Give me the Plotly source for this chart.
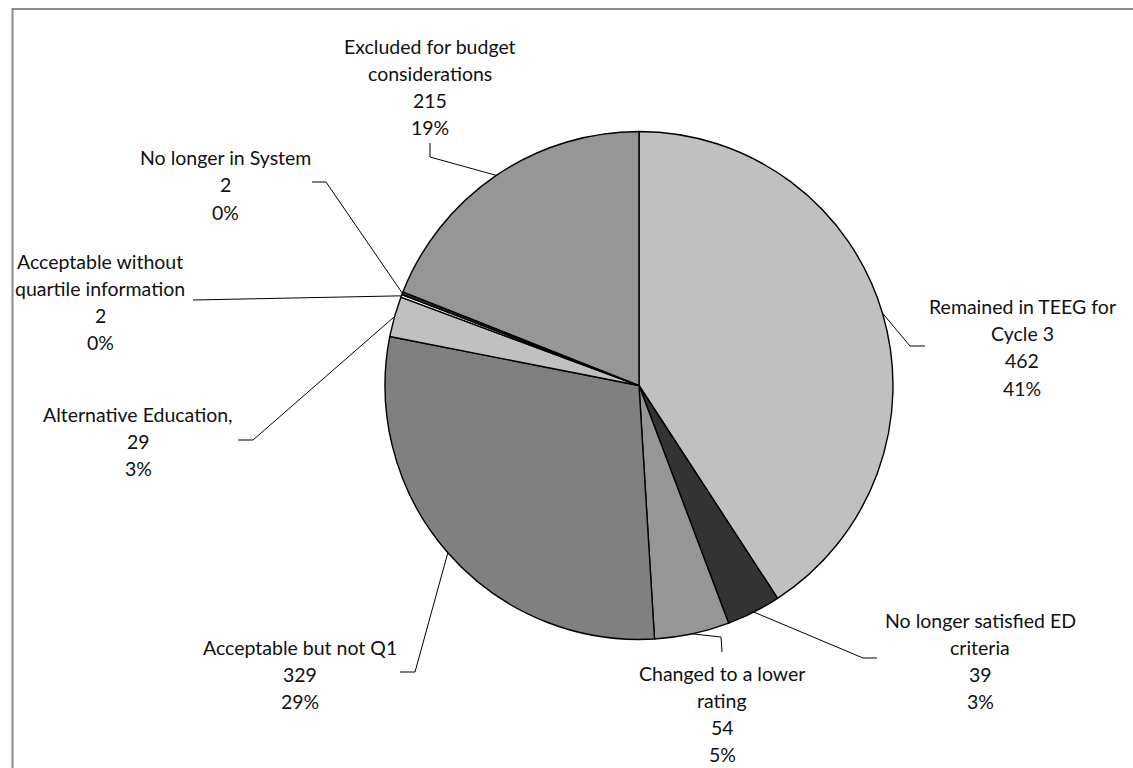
import math
import plotly.graph_objects as go

# ---------------- data ----------------
categories = [
    "Remained in TEEG for\nCycle 3",
    "No longer satisfied ED\ncriteria",
    "Changed to a lower\nrating",
    "Acceptable but not Q1",
    "Alternative Education,",
    "Acceptable without\nquartile information",
    "No longer in System",
    "Excluded for budget\nconsiderations",
]
values = [462, 39, 54, 329, 29, 2, 2, 215]
colors = ["#C0C0C0", "#333333", "#969696", "#808080", "#C0C0C0", "#FFFFFF", "#333333", "#969696"]

# ---------------- layout helpers (pixels) ----------------
W, H = 1133, 768
CX, CY, R = 639, 385.5, 254
ROW = 27
# label block: (center x, first row y)
label_pos = [(1022, 307), (980, 620), (722, 673), (300, 647),
             (138, 414), (100, 261), (225, 158), (430, 47)]
# leader line elbow / end points
leader_pts = [
    [(910, 346), (925, 346)],
    [(863, 658), (877, 658)],
    [(721, 637), (722, 652)],
    [(415, 672), (400, 672)],
    [(253, 440), (238, 440)],
    [(193, 300), (193, 300)],
    [(326, 182), (312, 182)],
    [(430, 157), (430, 143)],
]

def px(x):
    return x / W

def py(y):
    return 1 - y / H

total = sum(values)

fig = go.Figure(go.Pie(
    labels=[c.replace("\n", " ") for c in categories],
    values=values,
    sort=False,
    direction="clockwise",
    rotation=0,
    marker=dict(colors=colors, line=dict(color="#000000", width=1.4)),
    textinfo="none",
    hoverinfo="label+value+percent",
    showlegend=False,
    domain=dict(x=[px(CX - R), px(CX + R)], y=[py(CY + R), py(CY - R)]),
))

annotations = []
shapes = []
cum = 0
for cat, v, (lx, ly), pts in zip(categories, values, label_pos, leader_pts):
    pct = round(100 * v / total)
    lines = cat.split("\n") + [str(v), f"{pct}%"]
    for i, t in enumerate(lines):
        annotations.append(dict(
            x=px(lx), y=py(ly + ROW * i), xref="paper", yref="paper",
            text=t, showarrow=False, xanchor="center", yanchor="middle",
            font=dict(family="Lato", size=19.5, color="#111111"),
        ))
    mid = (cum + v / 2) / total * 2 * math.pi
    cum += v
    sx = CX + R * math.sin(mid)
    sy = CY - R * math.cos(mid)
    path = f"M {px(sx)} {py(sy)}"
    for (ex, ey) in pts:
        path += f" L {px(ex)} {py(ey)}"
    shapes.append(dict(type="path", xref="paper", yref="paper", path=path,
                       line=dict(color="#000000", width=1)))

# chart frame
shapes.append(dict(type="rect", xref="paper", yref="paper",
                   x0=px(12.5), y0=py(9), x1=px(W + 20), y1=py(H + 20),
                   line=dict(color="#8C8C8C", width=2), layer="below"))

fig.update_layout(
    width=W, height=H,
    margin=dict(l=0, r=0, t=0, b=0),
    paper_bgcolor="white", plot_bgcolor="white",
    annotations=annotations,
    shapes=shapes,
)

fig.write_html("out.html")
